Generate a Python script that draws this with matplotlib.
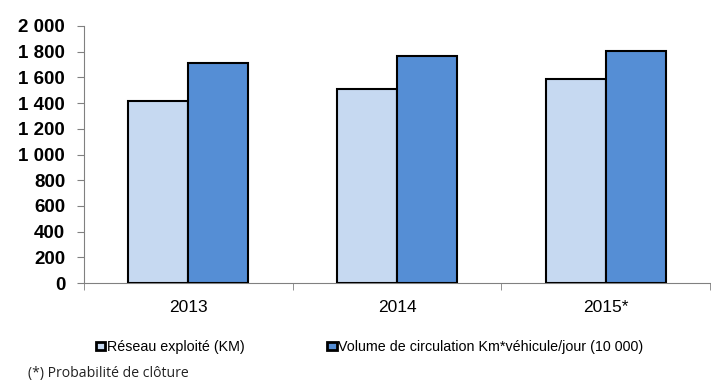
import numpy as np
import matplotlib.pyplot as plt
from matplotlib.ticker import FuncFormatter

years = ["2013", "2014", "2015*"]
reseau = [1415, 1510, 1588]
volume = [1710, 1765, 1805]
series_names = ["Réseau exploité (KM)",
                "Volume de circulation Km*véhicule/jour (10 000)"]

plt.rcParams['font.family'] = ['Liberation Sans', 'DejaVu Sans']

W, H = 711, 383
fig = plt.figure(figsize=(W / 100, H / 100), dpi=100)
ax = fig.add_axes([84 / W, 1 - 283 / H, (710 - 84) / W, (283 - 26) / H])

x = np.arange(len(years))
bw = 0.287
ax.bar(x - bw / 2, reseau, bw, color="#c6d9f1", edgecolor="black", linewidth=1.5,
       label=series_names[0], zorder=3)
ax.bar(x + bw / 2, volume, bw, color="#558ed5", edgecolor="black", linewidth=1.5,
       label=series_names[1], zorder=3)

ax.set_xlim(-0.5, len(years) - 0.5)
ax.set_ylim(0, 2000)
ax.set_yticks(range(0, 2001, 200))
ax.yaxis.set_major_formatter(FuncFormatter(lambda v, p: f"{int(v):,}".replace(",", " ")))
for lbl in ax.get_yticklabels():
    lbl.set_fontweight("bold")
ax.tick_params(axis="y", labelsize=13.5, length=5, color="#808080", pad=8.5)

# category labels centred, ticks between categories
ax.set_xticks(x)
ax.set_xticklabels(years, fontsize=12.5)
ax.tick_params(axis="x", length=0, pad=12)
ax.set_xticks(np.arange(-0.5, len(years)), minor=True)
ax.tick_params(axis="x", which="minor", length=5, color="#808080")

for side in ["top", "right"]:
    ax.spines[side].set_visible(False)
for side in ["left", "bottom"]:
    ax.spines[side].set_color("#808080")

leg = fig.legend(loc="center left", bbox_to_anchor=(96 / W, 1 - 347 / H), ncol=2,
                 frameon=False, fontsize=10.3, handlelength=0.65, handleheight=0.5,
                 handletextpad=0.1, columnspacing=5.8, borderaxespad=0,
                 borderpad=0)
for patch in leg.get_patches():
    patch.set_linewidth(2)

fig.text(28 / W, 1 - 373 / H, "(*) Probabilité de clôture", fontsize=10.1,
         family=["Open Sans", "DejaVu Sans"], va="center", color="#222222")

fig.savefig("out.png", dpi=100)
